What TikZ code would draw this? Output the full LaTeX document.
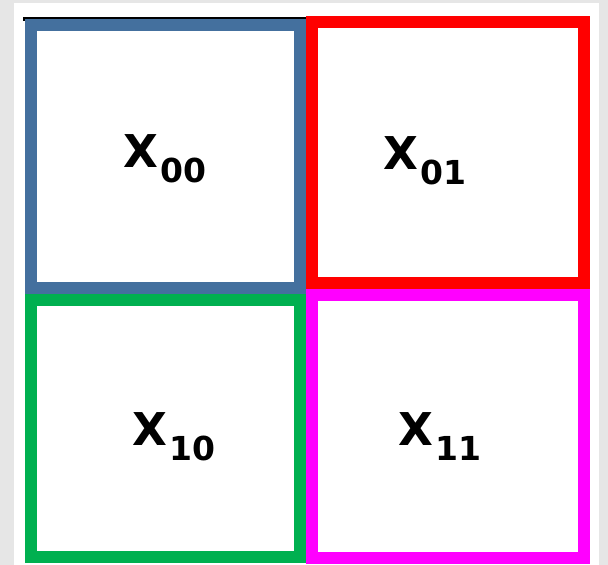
\documentclass[tikz,border=0pt]{standalone}
\usepackage{fontspec}
\setmainfont{DejaVu Sans}
\usetikzlibrary{positioning}
\definecolor{pagegray}{HTML}{E6E6E6}
\definecolor{cellblue}{HTML}{44709E}
\definecolor{cellred}{HTML}{FF0000}
\definecolor{cellgreen}{HTML}{00B050}
\definecolor{cellmagenta}{HTML}{FF00FF}
\newcommand{\cellname}[1]{{\fontsize{22.6}{22.6}\selectfont\bfseries X}\hspace{1pt}\raisebox{-7.5pt}{\fontsize{16.5}{16.5}\selectfont\bfseries #1}}

\begin{document}
\begin{tikzpicture}[x=0.5pt,y=-0.5pt]
  \tikzset{
    cellbox/.style={line width=6pt, fill=white},
    celllabel/.style={inner sep=0pt, anchor=base west}
  }
  % page and sheet
  \fill[pagegray] (0,0) rectangle (608,565);
  \fill[white] (14,3) rectangle (599,565);
  \draw[black, line width=2pt] (23,19.5) -- (306,19.5);
  % the four cells
  \draw[cellbox, draw=cellblue] (31,25) rectangle (300,288);
  \draw[cellbox, draw=cellred] (312,22) rectangle (584,283);
  \draw[cellbox, draw=cellgreen] (31,300) rectangle (300,557);
  \draw[cellbox, draw=cellmagenta] (312,295) rectangle (584,558);
  % labels
  \node[celllabel] (x00) at (123,168) {\cellname{00}};
  \node[celllabel] (x01) at (383,170) {\cellname{01}};
  \node[celllabel] (x10) at (132,445) {\cellname{10}};
  \node[celllabel] (x11) at (398,445) {\cellname{11}};
\end{tikzpicture}
\end{document}
